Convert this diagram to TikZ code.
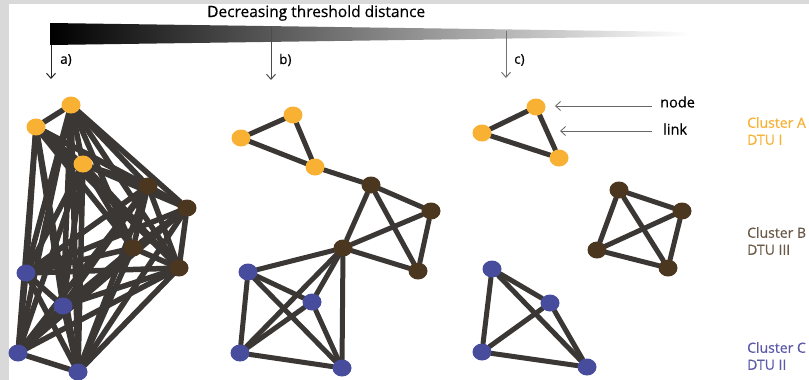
\documentclass[tikz,border=0pt]{standalone}
\usepackage{fontspec}
\setmainfont{Open Sans}[FakeBold=0.4]
\usetikzlibrary{arrows.meta,shapes.geometric,backgrounds}
\definecolor{clA}{HTML}{F8B133}
\definecolor{clB}{HTML}{4B3620}
\definecolor{clC}{HTML}{474C9C}
\definecolor{linkc}{HTML}{3B3734}
\definecolor{txtB}{HTML}{6B5A48}
\definecolor{txtC}{HTML}{5B59A8}
\tikzset{dot/.style={ellipse,minimum width=19pt,minimum height=17pt,inner sep=0pt},
  link/.style={line width=5pt,linkc,line cap=round},
  pointer/.style={-{Straight Barb[length=5pt,width=9pt]},line width=1pt},
  lbl/.style={anchor=west,inner sep=0pt,font=\fontsize{13.5}{17}\selectfont},
  clus/.style={lbl,align=left,font=\fontsize{14}{17}\selectfont}}
\begin{document}
\begin{tikzpicture}[x=1pt,y=-1pt]
\useasboundingbox (0,0) rectangle (809,380);
% threshold bar
\shade[left color=black,right color=white] (50,23) -- (690,32) -- (690,36) -- (50,45) -- cycle;
\node[lbl,font=\fontsize{15.5}{17}\selectfont] (title) at (207,13) {Decreasing threshold distance};
\coordinate (aTop) at (51,45); \coordinate (aTip) at (51,79);
\coordinate (bTop) at (271,27); \coordinate (bTip) at (271,80);
\coordinate (cTop) at (506,31); \coordinate (cTip) at (506,78);
\draw[pointer,black!85] (aTop) -- (aTip); \node[lbl] (la) at (60,60) {a)};
\draw[pointer,black!70] (bTop) -- (bTip); \node[lbl] (lb) at (279,60) {b)};
\draw[pointer,black!55] (cTop) -- (cTip); \node[lbl] (lc) at (514,60) {c)};
% a) all links
\node[dot,fill=clA] (aA1) at (71,105) {}; \node[dot,fill=clA] (aA2) at (36,127) {}; \node[dot,fill=clA] (aA3) at (83,164) {};
\node[dot,fill=clB] (aB1) at (148,186) {}; \node[dot,fill=clB] (aB2) at (187,208) {};
\node[dot,fill=clB] (aB3) at (133,248) {}; \node[dot,fill=clB] (aB4) at (179,268) {};
\node[dot,fill=clC] (aC1) at (26,273) {}; \node[dot,fill=clC] (aC2) at (63,306) {};
\node[dot,fill=clC] (aC3) at (18,353) {}; \node[dot,fill=clC] (aC4) at (78,372) {};
% b)
\node[dot,fill=clA] (bA1) at (293,115) {}; \node[dot,fill=clA] (bA2) at (241,138) {}; \node[dot,fill=clA] (bA3) at (315,167) {};
\node[dot,fill=clB] (bB1) at (371,185) {}; \node[dot,fill=clB] (bB2) at (431,211) {};
\node[dot,fill=clB] (bB3) at (343,248) {}; \node[dot,fill=clB] (bB4) at (418,271) {};
\node[dot,fill=clC] (bC1) at (248,272) {}; \node[dot,fill=clC] (bC2) at (312,302) {};
\node[dot,fill=clC] (bC3) at (240,353) {}; \node[dot,fill=clC] (bC4) at (342,368) {};
% c)
\node[dot,fill=clA] (cA1) at (482,133) {}; \node[dot,fill=clA] (cA2) at (536,107) {}; \node[dot,fill=clA] (cA3) at (559,158) {};
\node[dot,fill=clB] (cB1) at (619,190) {}; \node[dot,fill=clB] (cB2) at (682,211) {};
\node[dot,fill=clB] (cB3) at (597,250) {}; \node[dot,fill=clB] (cB4) at (668,268) {};
\node[dot,fill=clC] (cC1) at (492,269) {}; \node[dot,fill=clC] (cC2) at (550,303) {};
\node[dot,fill=clC] (cC3) at (482,352) {}; \node[dot,fill=clC] (cC4) at (587,367) {};
% legend
\node[lbl,font=\fontsize{14.5}{17}\selectfont] (lnode) at (660,102) {node};
\node[lbl,font=\fontsize{14.5}{17}\selectfont] (llink) at (663,129) {link};
\coordinate (nodeTail) at (652,106); \coordinate (nodeTip) at (555,106);
\coordinate (linkTail) at (652,131); \coordinate (linkTip) at (560,131);
\draw[pointer,black!60,line width=0.8pt] (nodeTail) -- (nodeTip);
\draw[pointer,black!60,line width=0.8pt] (linkTail) -- (linkTip);
\node[clus,text=clA] (clusA) at (747,131) {Cluster A\\DTU I};
\node[clus,text=txtB] (clusB) at (747,241) {Cluster B\\DTU III};
\node[clus,text=txtC] (clusC) at (747,356) {Cluster C\\DTU II};
\begin{scope}[on background layer]
\fill[black!15] (0,0) rectangle (809,380);
\fill[white] (9,4) rectangle (809,380);
\foreach \u [count=\i] in {aA1,aA2,aA3,aB1,aB2,aB3,aB4,aC1,aC2,aC3,aC4}
  \foreach \v [count=\j] in {aA1,aA2,aA3,aB1,aB2,aB3,aB4,aC1,aC2,aC3,aC4}
    {\ifnum\j>\i \draw[link,line width=5.5pt] (\u) -- (\v); \fi}
\foreach \u/\v in {bA1/bA2,bA2/bA3,bA1/bA3,bA3/bB1,bB1/bB2,bB1/bB3,bB1/bB4,bB2/bB3,bB2/bB4,bB3/bB4,
  bB3/bC1,bB3/bC2,bB3/bC3,bB3/bC4,bC1/bC2,bC1/bC3,bC1/bC4,bC2/bC3,bC2/bC4,bC3/bC4}
  \draw[link] (\u) -- (\v);
\foreach \u/\v in {cA1/cA2,cA2/cA3,cA1/cA3,cB1/cB2,cB1/cB3,cB1/cB4,cB2/cB3,cB2/cB4,cB3/cB4,
  cC1/cC2,cC1/cC3,cC1/cC4,cC2/cC3,cC2/cC4,cC3/cC4}
  \draw[link] (\u) -- (\v);
\end{scope}
\end{tikzpicture}
\end{document}
